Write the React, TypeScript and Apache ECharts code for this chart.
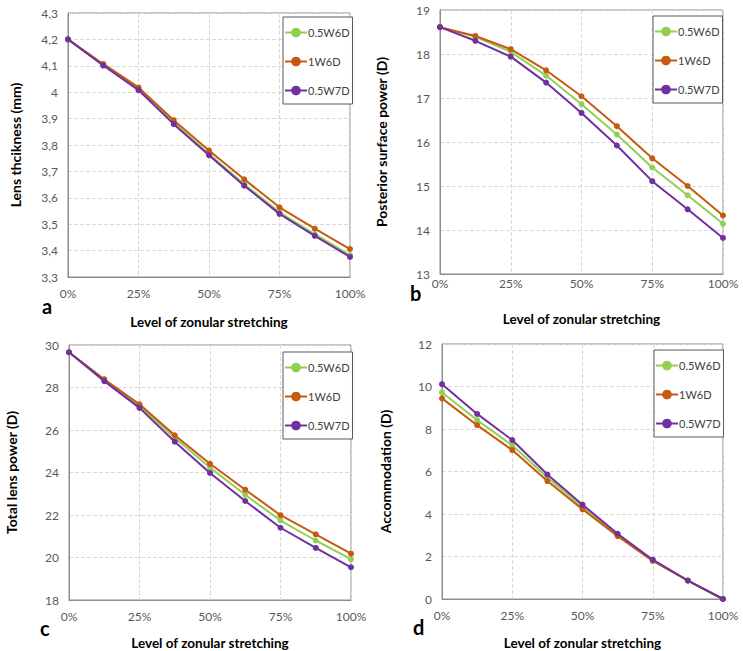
import React, { useEffect, useRef } from "react";
import * as echarts from "echarts";

const stretch = [0, 0.125, 0.25, 0.375, 0.5, 0.625, 0.75, 0.875, 1];
const seriesNames = ["0.5W6D", "1W6D", "0.5W7D"];
const seriesColors = ["#92D050", "#C55A11", "#7030A0"];

const thickness05W6D = [4.2, 4.103, 4.011, 3.884, 3.766, 3.651, 3.545, 3.462, 3.383];
const thickness1W6D = [4.2, 4.107, 4.018, 3.894, 3.779, 3.67, 3.564, 3.483, 3.406];
const thickness05W7D = [4.2, 4.101, 4.008, 3.879, 3.761, 3.646, 3.539, 3.456, 3.376];

const posterior05W6D = [18.61, 18.39, 18.05, 17.51, 16.86, 16.17, 15.42, 14.79, 14.14];
const posterior1W6D = [18.61, 18.41, 18.11, 17.63, 17.04, 16.36, 15.63, 15.0, 14.33];
const posterior05W7D = [18.61, 18.3, 17.94, 17.35, 16.66, 15.92, 15.11, 14.47, 13.82];

const total05W6D = [29.66, 28.35, 27.13, 25.64, 24.23, 22.95, 21.74, 20.8, 19.92];
const total1W6D = [29.66, 28.39, 27.21, 25.75, 24.41, 23.19, 21.99, 21.09, 20.18];
const total05W7D = [29.66, 28.3, 27.04, 25.45, 23.98, 22.66, 21.4, 20.45, 19.54];

const accom05W6D = [9.72, 8.42, 7.23, 5.72, 4.33, 2.99, 1.82, 0.87, 0];
const accom1W6D = [9.44, 8.18, 7.01, 5.55, 4.22, 2.96, 1.79, 0.86, 0];
const accom05W7D = [10.11, 8.71, 7.48, 5.86, 4.44, 3.07, 1.85, 0.87, 0];

const xTitle = "Level of zonular stretching";
const yTitles = ["Lens thcikness (mm)", "Posterior surface power (D)", "Total lens power (D)", "Accommodation (D)"];
const panelLetters = ["a", "b", "c", "d"];
const yRanges = [
  [3.3, 4.3, 0.1],
  [13, 19, 1],
  [18, 30, 2],
  [0, 12, 2],
];
const panelData = [
  [thickness05W6D, thickness1W6D, thickness05W7D],
  [posterior05W6D, posterior1W6D, posterior05W7D],
  [total05W6D, total1W6D, total05W7D],
  [accom05W6D, accom1W6D, accom05W7D],
];

const FONT = "Lato";

export default function App() {
  const ref = useRef<HTMLDivElement>(null);
  useEffect(() => {
    if (!ref.current) return;
    const chart = echarts.init(ref.current, undefined, { renderer: "svg" });

    const grids = [
      { left: 68, top: 13, width: 282, height: 264 },
      { left: 440, top: 10, width: 283, height: 264 },
      { left: 69, top: 345, width: 282, height: 257 },
      { left: 442, top: 344, width: 281, height: 257 },
    ];
    const xLabelMargin = [10, 3, 10, 10];
    const xNameGap = [38, 38, 36, 37];
    const yNameGap = [46, 52, 51, 50];
    const legendPos = [
      { left: 283, top: 17 },
      { left: 653, top: 16 },
      { left: 283, top: 352 },
      { left: 654, top: 350 },
    ];
    const letterPos = [
      [48, 303],
      [416, 290],
      [46, 625],
      [419, 624],
    ];

    const xAxis = grids.map((_, i) => ({
      type: "value",
      gridIndex: i,
      min: 0,
      max: 1,
      interval: 0.25,
      name: xTitle,
      nameLocation: "middle",
      nameGap: xNameGap[i],
      nameTextStyle: { fontFamily: FONT, fontWeight: "bold", fontSize: 13.5, color: "#000" },
      axisLine: { show: true, lineStyle: { color: "#8c8c8c", width: 1 } },
      axisTick: { show: false },
      axisLabel: {
        margin: xLabelMargin[i],
        fontFamily: FONT,
        fontSize: 12,
        color: "#595959",
        formatter: (v: number) => Math.round(v * 100) + "%",
      },
      splitLine: { show: true, lineStyle: { color: "#d9d9d9", type: "dashed", width: 1 } },
    }));

    const yAxis = grids.map((_, i) => ({
      type: "value",
      gridIndex: i,
      min: yRanges[i][0],
      max: yRanges[i][1],
      interval: yRanges[i][2],
      name: yTitles[i],
      nameLocation: "middle",
      nameGap: yNameGap[i],
      nameTextStyle: { fontFamily: FONT, fontWeight: "bold", fontSize: 14, color: "#000" },
      axisLine: { show: true, lineStyle: { color: "#8c8c8c", width: 1 } },
      axisTick: { show: false },
      axisLabel: {
        margin: 10,
        fontFamily: FONT,
        fontSize: 12,
        color: "#595959",
        formatter: (v: number) => {
          const r = Math.round(v * 10) / 10;
          return String(r).replace(".", ",");
        },
      },
      splitLine: { show: true, lineStyle: { color: "#d9d9d9", type: "dashed", width: 1 } },
    }));

    const series: any[] = [];
    panelData.forEach((arrs, i) => {
      arrs.forEach((vals, k) => {
        series.push({
          type: "line",
          name: seriesNames[k],
          xAxisIndex: i,
          yAxisIndex: i,
          data: stretch.map((x, j) => [x, vals[j]]),
          symbol: "circle",
          symbolSize: 6,
          color: seriesColors[k],
          lineStyle: { width: 2, color: seriesColors[k] },
          itemStyle: { color: seriesColors[k] },
          z: 2 + k,
        });
      });
    });

    const legend = legendPos.map((p) => ({
      left: p.left,
      top: p.top,
      orient: "vertical",
      data: seriesNames,
      itemWidth: 22,
      itemHeight: 12,
      itemGap: 18,
      padding: [10, 3, 8, 1],
      borderColor: "#595959",
      borderWidth: 1,
      backgroundColor: "#fff",
      selectedMode: false,
      textStyle: { fontFamily: FONT, fontSize: 11, color: "#404040", padding: [0, 0, 0, -4] },
    }));

    const graphic = letterPos.map((p, i) => ({
      type: "text",
      left: p[0] - 6,
      top: p[1] - 7,
      style: {
        text: panelLetters[i],
        fontFamily: FONT,
        fontWeight: "bold",
        fontSize: 20,
        lineHeight: 14,
        fill: "#000",
      },
    }));

    chart.setOption({
      animation: false,
      backgroundColor: "#fff",
      grid: grids.map((g) => ({ ...g, show: true, borderColor: "#8c8c8c", borderWidth: 1, backgroundColor: "transparent" })),
      xAxis,
      yAxis,
      legend,
      series,
      graphic,
    });
    return () => chart.dispose();
  }, []);
  return <div ref={ref} style={{ position: "absolute", left: 0, top: 0, width: 743, height: 651 }} />;
}
